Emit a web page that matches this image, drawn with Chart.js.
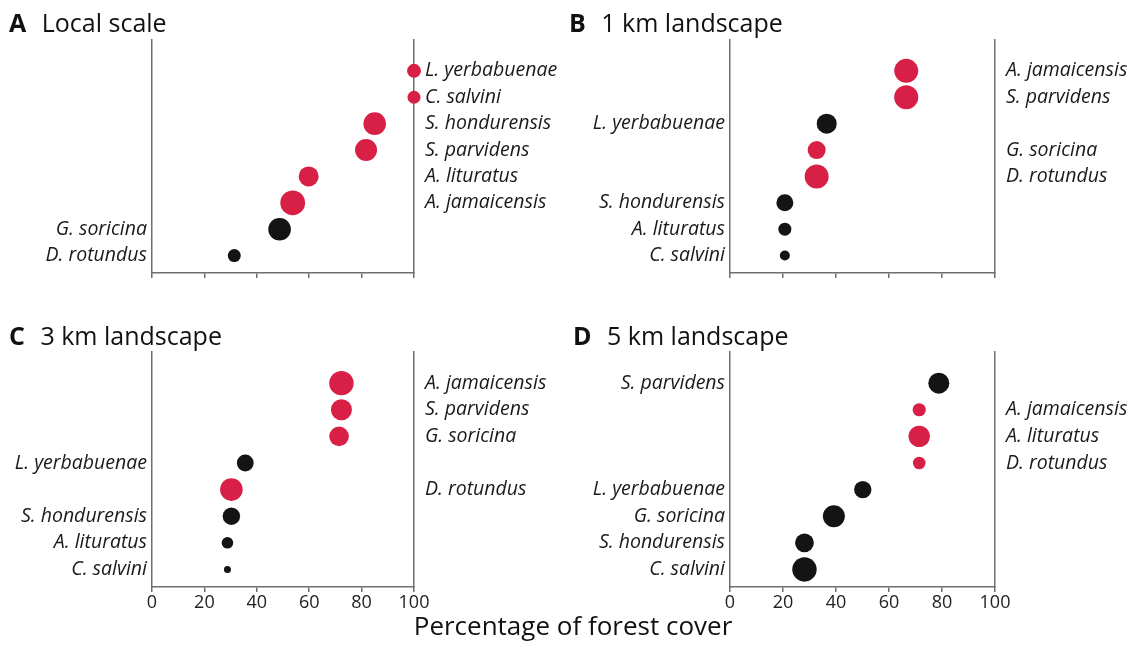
<!DOCTYPE html>
<html>
<head>
<meta charset="utf-8">
<script src="https://cdn.jsdelivr.net/npm/chart.js@4.4.1/dist/chart.umd.min.js"></script>
<style>
body { margin:0; background:#fff; width:1133px; height:649px; position:relative; overflow:hidden; font-family:'Open Sans', sans-serif; color:#111; }
canvas { position:absolute; }
.ttl { position:absolute; font-size:25px; line-height:25px; white-space:nowrap; }
.ttl b { margin-right:9px; }
#xtitle { position:absolute; left:0; width:1146px; text-align:center; top:612px; font-size:26px; line-height:26px; }
</style>
</head>
<body>
<canvas id="cA" width="566" height="310" style="left:0;top:0"></canvas>
<canvas id="cB" width="567" height="310" style="left:566px;top:0"></canvas>
<canvas id="cC" width="566" height="339" style="left:0;top:310px"></canvas>
<canvas id="cD" width="567" height="339" style="left:566px;top:310px"></canvas>
<div class="ttl" style="left:9px;top:10px"><b>A</b> Local scale</div>
<div class="ttl" style="left:569px;top:10px"><b>B</b> 1 km landscape</div>
<div class="ttl" style="left:9px;top:323px"><b>C</b> 3 km landscape</div>
<div class="ttl" style="left:573px;top:323px"><b>D</b> 5 km landscape</div>
<div id="xtitle">Percentage of forest cover</div>
<script>
// rows top to bottom, forest cover in %, dot size, 1 = red (label on the right)
const rows = [1, 2, 3, 4, 5, 6, 7, 8];
const xTicks = [0, 20, 40, 60, 80, 100];

const speciesA = ['L. yerbabuenae', 'C. salvini', 'S. hondurensis', 'S. parvidens', 'A. lituratus', 'A. jamaicensis', 'G. soricina', 'D. rotundus'];
const coverA = [100, 100, 85, 81.7, 59.8, 53.7, 48.7, 31.4];
const sizeA = [7, 6.5, 11.3, 11, 10, 12.4, 11.3, 6.5];
const sigA = [1, 1, 1, 1, 1, 1, 0, 0];

const speciesB = ['A. jamaicensis', 'S. parvidens', 'L. yerbabuenae', 'G. soricina', 'D. rotundus', 'S. hondurensis', 'A. lituratus', 'C. salvini'];
const coverB = [66.5, 66.5, 36.5, 32.7, 32.7, 20.7, 20.7, 20.7];
const sizeB = [12, 12, 10, 9, 12, 8.5, 6.5, 5];
const sigB = [1, 1, 0, 1, 1, 0, 0, 0];

const speciesC = ['A. jamaicensis', 'S. parvidens', 'G. soricina', 'L. yerbabuenae', 'D. rotundus', 'S. hondurensis', 'A. lituratus', 'C. salvini'];
const coverC = [72.3, 72.3, 71.4, 35.6, 30.3, 30.3, 28.8, 28.8];
const sizeC = [12.2, 10.5, 9.8, 8.4, 11.3, 8.7, 5.8, 3.5];
const sigC = [1, 1, 1, 0, 1, 0, 0, 0];

const speciesD = ['S. parvidens', 'A. jamaicensis', 'A. lituratus', 'D. rotundus', 'L. yerbabuenae', 'G. soricina', 'S. hondurensis', 'C. salvini'];
const coverD = [78.8, 71.4, 71.4, 71.4, 50.1, 39.2, 28.1, 28.1];
const sizeD = [10.5, 6.6, 10.7, 6.3, 8.7, 11, 9.4, 12.2];
const sigD = [0, 1, 1, 1, 0, 0, 0, 0];

const RED = '#d81f46';
const BLACK = '#141414';
const AXIS = '#6e6e6e';
const labelFont = { family: 'Open Sans', size: 19.5, style: 'italic' };

function panel(id, species, cover, size, sig, lay) {
  const ctx = document.getElementById(id).getContext('2d');
  const yCommon = {
    type: 'linear',
    reverse: true,
    min: -0.17,
    max: 8.66,
    grid: { display: false, drawTicks: false },
    border: { display: true, color: AXIS, width: 1.5 },
    afterBuildTicks: s => { s.ticks = rows.map(v => ({ value: v })); }
  };
  new Chart(ctx, {
    type: 'bubble',
    data: {
      datasets: [{
        data: rows.map((r, i) => ({ x: cover[i], y: r, r: size[i] })),
        backgroundColor: sig.map(s => s ? RED : BLACK),
        borderWidth: 0,
        clip: false
      }]
    },
    options: {
      responsive: false,
      animation: false,
      layout: { padding: { top: lay.top, left: 0, right: 0, bottom: 0 } },
      plugins: { legend: { display: false }, tooltip: { enabled: false } },
      scales: {
        x: {
          type: 'linear',
          min: 0,
          max: 100,
          afterBuildTicks: s => { s.ticks = xTicks.map(v => ({ value: v })); },
          grid: { display: true, drawOnChartArea: false, drawTicks: true, tickLength: 5, color: AXIS, lineWidth: 1.5 },
          border: { display: true, color: AXIS, width: 1.5 },
          ticks: {
            display: lay.showX,
            autoSkip: false,
            padding: 0,
            color: '#222',
            font: { family: 'Open Sans', size: 18 }
          },
          afterFit: s => { s.height = lay.xH; }
        },
        y: Object.assign({}, yCommon, {
          position: 'left',
          ticks: {
            autoSkip: false,
            padding: 5,
            color: '#1a1a1a',
            font: labelFont,
            callback: (v, i) => sig[i] ? '' : species[i]
          },
          afterFit: s => { s.width = lay.leftW; }
        }),
        y2: Object.assign({}, yCommon, {
          position: 'right',
          ticks: {
            autoSkip: false,
            padding: 11,
            color: '#1a1a1a',
            font: labelFont,
            callback: (v, i) => sig[i] ? species[i] : ''
          },
          afterFit: s => { s.width = lay.rightW; }
        })
      }
    }
  });
}

panel('cA', speciesA, coverA, sizeA, sigA, { top: 40, xH: 37, leftW: 152, rightW: 152, showX: false });
panel('cB', speciesB, coverB, sizeB, sigB, { top: 40, xH: 37, leftW: 164, rightW: 138, showX: false });
panel('cC', speciesC, coverC, sizeC, sigC, { top: 42, xH: 62, leftW: 152, rightW: 152, showX: true });
panel('cD', speciesD, coverD, sizeD, sigD, { top: 42, xH: 62, leftW: 164, rightW: 138, showX: true });
</script>
</body>
</html>
